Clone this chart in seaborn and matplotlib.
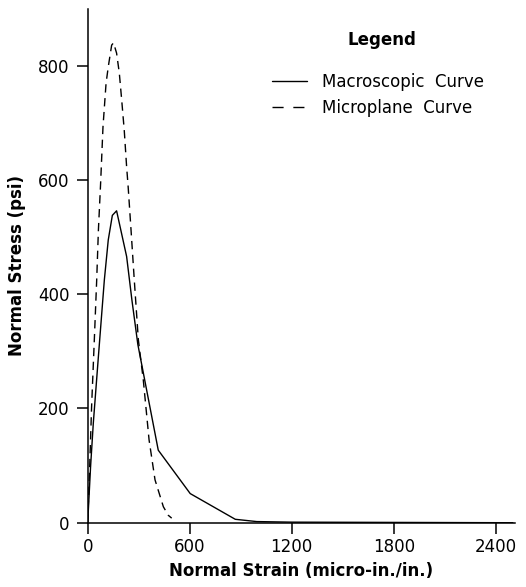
import matplotlib
matplotlib.use("Agg")
import matplotlib.pyplot as plt
from matplotlib.lines import Line2D
import seaborn as sns
import pandas as pd

# Macroscopic curve (solid)
macro_strain = [0, 17, 33, 63, 98, 121, 145, 170, 229, 260, 295, 415, 603, 868, 994, 1200, 2500]
macro_stress = [0, 98, 174, 291, 425, 495, 538, 546, 466, 390, 312, 127, 51, 6, 2, 1, 0]

# Microplane curve (dashed)
micro_strain = [0, 12, 23, 39, 53, 63, 76, 90, 108, 121, 141, 152, 170, 186, 200, 215,
                229, 238, 255, 274, 298, 327, 361, 396, 445, 474, 494]
micro_stress = [0, 100, 203, 320, 425, 512, 594, 693, 769, 798, 836, 840, 822, 787, 740, 687,
                623, 588, 512, 425, 320, 250, 145, 75, 28, 13, 8]

x_ticks = [0, 600, 1200, 1800, 2400]
y_ticks = [0, 200, 400, 600, 800]

sns.set_theme(style="ticks")
plt.rcParams['font.family'] = ['DejaVu Sans']

fig = plt.figure(figsize=(5.26, 5.87), dpi=100)
ax = fig.add_axes([0.1667, 0.1095, 0.8124, 0.8759])

df_macro = pd.DataFrame({"strain": macro_strain, "stress": macro_stress})
df_micro = pd.DataFrame({"strain": micro_strain, "stress": micro_stress})

sns.lineplot(data=df_macro, x="strain", y="stress", ax=ax, color="black",
             linewidth=1.0, sort=False, estimator=None)
sns.lineplot(data=df_micro, x="strain", y="stress", ax=ax, color="black",
             linewidth=1.0, sort=False, estimator=None, linestyle=(0, (6, 4)))

ax.set_xlim(0, 2513)
ax.set_ylim(0, 900)
ax.set_xticks(x_ticks)
ax.set_yticks(y_ticks)
ax.set_xticklabels([str(t) for t in x_ticks])
ax.set_yticklabels([str(t) for t in y_ticks])

for s in ["top", "right"]:
    ax.spines[s].set_visible(False)
for s in ["left", "bottom"]:
    ax.spines[s].set_linewidth(1.1)
    ax.spines[s].set_color("black")

ax.tick_params(axis="both", direction="out", length=8, width=1.1, color="black",
               labelsize=12, labelcolor="black")
ax.tick_params(axis="y", pad=5)
ax.tick_params(axis="x", pad=3)

ax.set_xlabel("Normal Strain (micro-in./in.)", fontsize=12, fontweight="bold",
              labelpad=4.5, color="black")
ax.set_ylabel("Normal Stress (psi)", fontsize=12, fontweight="bold",
              labelpad=9, color="black")

handles = [Line2D([0], [0], color="black", lw=1.0),
           Line2D([0], [0], color="black", lw=1.0, linestyle=(0, (8, 7)))]
leg = ax.legend(handles, ["Macroscopic  Curve", "Microplane  Curve"],
                loc="upper left", bbox_to_anchor=(0.415, 0.888), frameon=False,
                fontsize=12, handlelength=2.1, handletextpad=0.9, labelspacing=0.5,
                borderaxespad=0, labelcolor="black")
fig.text(382 / 526, 1 - 40 / 587, "Legend", ha="center", va="center",
         fontsize=12, fontweight="bold", color="black")

fig.savefig("out.png", dpi=100)
